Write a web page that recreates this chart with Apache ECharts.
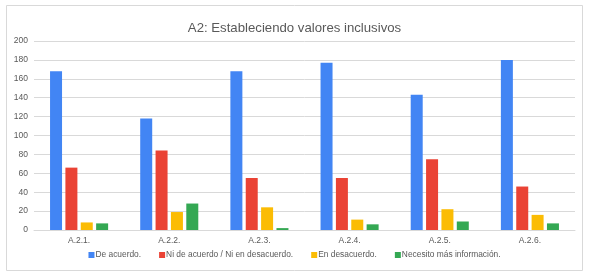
<!DOCTYPE html>
<html>
<head>
<meta charset="utf-8" />
<title></title>
<script src="https://cdn.jsdelivr.net/npm/echarts@6/dist/echarts.min.js"></script>
<style>
html, body { margin: 0; padding: 0; width: 100%; height: 100%; background: #fff; }
#container { width: 589px; height: 277px; }
</style>
</head>
<body>
<div id="container"></div>
<script>
var categories = ['A.2.1.', 'A.2.2.', 'A.2.3.', 'A.2.4.', 'A.2.5.', 'A.2.6.'];
var seriesNames = ['De acuerdo.', 'Ni de acuerdo / Ni en desacuerdo.', 'En desacuerdo.', 'Necesito más información.'];
var deAcuerdo = [168, 118, 168, 177, 143, 180];
var niNi = [66, 84, 55, 55, 75, 46];
var enDesacuerdo = [8, 19, 24, 11, 22, 16];
var necesito = [7, 28, 2, 6, 9, 7];
var colors = ['#4285f4', '#ea4335', '#fbbc04', '#34a853'];

var myChart = echarts.init(document.getElementById('container'));
var allData = [deAcuerdo, niNi, enDesacuerdo, necesito];

var option = {
	animation: false,
	backgroundColor: '#fff',
	color: colors,
	textStyle: { fontFamily: 'Liberation Sans, Arial, sans-serif' },
	graphic: [{
		type: 'rect',
		shape: { x: 6.5, y: 5.5, width: 576, height: 265 },
		style: { fill: 'none', stroke: '#d9d9d9', lineWidth: 1 },
		silent: true
	}],
	title: {
		text: 'A2: Estableciendo valores inclusivos',
		left: 'center',
		top: 17,
		textStyle: { fontSize: 13.2, fontWeight: 'normal', color: '#595959' }
	},
	legend: {
		data: seriesNames,
		bottom: 13,
		left: 'center',
		itemWidth: 6,
		itemHeight: 6,
		itemGap: 18,
		icon: 'rect',
		textStyle: { fontSize: 8.4, color: '#595959', padding: [0, 0, 0, -4] }
	},
	grid: { left: 34, right: 14, top: 41, bottom: 47 },
	xAxis: {
		type: 'category',
		data: categories,
		axisTick: { show: false },
		axisLine: { lineStyle: { color: '#d9d9d9' } },
		axisLabel: { fontSize: 8.5, color: '#595959', margin: 6 }
	},
	yAxis: {
		type: 'value',
		min: 0,
		max: 200,
		interval: 20,
		axisLabel: { fontSize: 8.5, color: '#595959', margin: 6 },
		splitLine: { lineStyle: { color: '#d9d9d9' } }
	},
	series: seriesNames.map(function(name, i) {
		return {
			name: name,
			type: 'bar',
			data: allData[i],
			barWidth: 12,
			barGap: '28%'
		};
	})
};
myChart.setOption(option);
</script>
</body>
</html>
